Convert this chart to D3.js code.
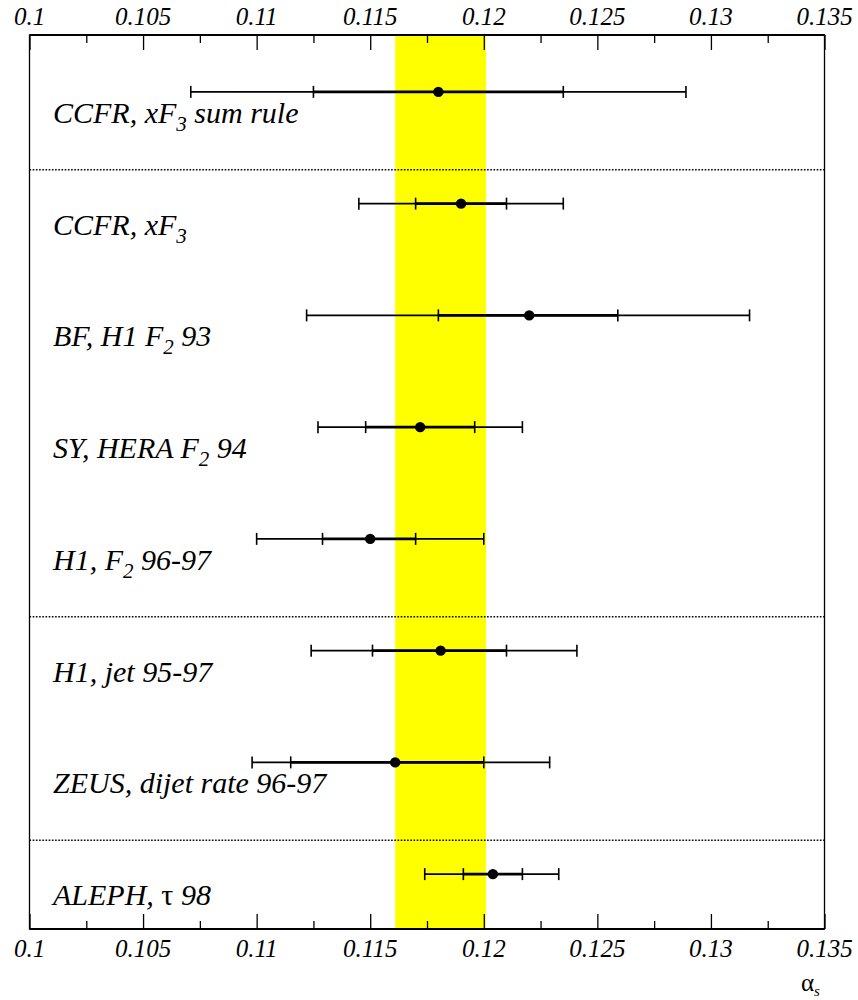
<!DOCTYPE html>
<html><head><meta charset="utf-8"><script src="https://cdn.jsdelivr.net/npm/d3@7"></script></head>
<body style="margin:0">
<svg id="chart" width="858" height="1000" font-family="Liberation Serif"></svg>
<script>
// ---- data ----
const labels = [
  [{t:"CCFR, xF"},{t:"3",sub:true},{t:" sum rule"}],
  [{t:"CCFR, xF"},{t:"3",sub:true}],
  [{t:"BF, H1 F"},{t:"2",sub:true},{t:" 93"}],
  [{t:"SY, HERA F"},{t:"2",sub:true},{t:" 94"}],
  [{t:"H1, F"},{t:"2",sub:true},{t:" 96-97"}],
  [{t:"H1, jet 95-97"}],
  [{t:"ZEUS, dijet rate 96-97"}],
  [{t:"ALEPH, "},{t:"τ",greek:true},{t:" 98"}]
];
const central = [0.1180, 0.1190, 0.1220, 0.1172, 0.1150, 0.1181, 0.1161, 0.1204];
const innerLo = [0.1125, 0.1170, 0.1180, 0.1148, 0.1129, 0.1151, 0.1115, 0.1191];
const innerHi = [0.1235, 0.1210, 0.1259, 0.1196, 0.1170, 0.1210, 0.1200, 0.1217];
const outerLo = [0.1071, 0.1145, 0.1122, 0.1127, 0.1100, 0.1124, 0.1098, 0.1174];
const outerHi = [0.1289, 0.1235, 0.1317, 0.1217, 0.1200, 0.1241, 0.1229, 0.1233];
const separatorsAfter = [0, 4, 6];
const bandLo = 0.1161, bandHi = 0.1201;
const majorTicks = [0.1, 0.105, 0.11, 0.115, 0.12, 0.125, 0.13, 0.135];
const tickLabels = ["0.1","0.105","0.11","0.115","0.12","0.125","0.13","0.135"];
const minorTicks = [0.1025, 0.1075, 0.1125, 0.1175, 0.1225, 0.1275, 0.1325];

// ---- layout ----
const L = 29.5, R = 824.5, T = 35, B = 929;
const svg = d3.select("#chart");
const x = d3.scaleLinear().domain([0.1, 0.135]).range([L, R]);
const y = d3.scaleLinear().domain([0, labels.length]).range([T, B]);
const rowY = i => y(i + 0.5) + 1;

// yellow band
svg.append("rect")
  .attr("x", x(bandLo)).attr("y", T)
  .attr("width", x(bandHi) - x(bandLo)).attr("height", B - T)
  .attr("fill", "#ffff00");

// separators
svg.selectAll("line.sep").data(separatorsAfter).enter().append("line")
  .attr("class", "sep")
  .attr("x1", L).attr("x2", R)
  .attr("y1", d => y(d + 1) + 23).attr("y2", d => y(d + 1) + 23)
  .attr("stroke", "#000").attr("stroke-width", 1.6)
  .attr("stroke-dasharray", "1.6,1.6");

// axes ticks
const topAxis = d3.axisTop(x).tickValues(majorTicks).tickFormat("")
  .tickSizeInner(-15).tickSizeOuter(0);
const botAxis = d3.axisBottom(x).tickValues(majorTicks).tickFormat("")
  .tickSizeInner(-15).tickSizeOuter(0);
const topMinor = d3.axisTop(x).tickValues(minorTicks).tickFormat("")
  .tickSizeInner(-8).tickSizeOuter(0);
const botMinor = d3.axisBottom(x).tickValues(minorTicks).tickFormat("")
  .tickSizeInner(-8).tickSizeOuter(0);
function styleAxis(g) {
  g.select(".domain").remove();
  g.selectAll(".tick text").remove();
  g.selectAll(".tick line").attr("stroke", "#000").attr("stroke-width", 1.3);
}
svg.append("g").attr("transform", `translate(0,${T})`).call(topAxis).call(styleAxis);
svg.append("g").attr("transform", `translate(0,${B})`).call(botAxis).call(styleAxis);
svg.append("g").attr("transform", `translate(0,${T})`).call(topMinor).call(styleAxis);
svg.append("g").attr("transform", `translate(0,${B})`).call(botMinor).call(styleAxis);

// tick labels (top and bottom)
[T - 10, B + 28].forEach(ty => {
  svg.append("g").selectAll("text").data(majorTicks).enter().append("text")
    .attr("x", d => x(d)).attr("y", ty)
    .attr("text-anchor", "middle")
    .attr("font-family", "Liberation Serif")
    .attr("font-size", 25).attr("font-style", "italic").attr("fill", "#000")
    .text((d, i) => tickLabels[i]);
});

// frame
svg.append("rect")
  .attr("x", L).attr("y", T).attr("width", R - L).attr("height", B - T)
  .attr("fill", "none").attr("stroke", "#000").attr("stroke-width", 1.3);
svg.append("line").attr("x1", L).attr("x2", R).attr("y1", T).attr("y2", T)
  .attr("stroke", "#000").attr("stroke-width", 2);
svg.append("line").attr("x1", L).attr("x2", R).attr("y1", B).attr("y2", B)
  .attr("stroke", "#000").attr("stroke-width", 2);

// measurements
const rows = svg.selectAll("g.row").data(central).enter().append("g").attr("class", "row");
const cap = 6;
rows.append("line")
  .attr("x1", (d, i) => x(outerLo[i])).attr("x2", (d, i) => x(outerHi[i]))
  .attr("y1", (d, i) => rowY(i)).attr("y2", (d, i) => rowY(i))
  .attr("stroke", "#000").attr("stroke-width", 1.6);
rows.append("line")
  .attr("x1", (d, i) => x(innerLo[i])).attr("x2", (d, i) => x(innerHi[i]))
  .attr("y1", (d, i) => rowY(i)).attr("y2", (d, i) => rowY(i))
  .attr("stroke", "#000").attr("stroke-width", 2.8);
[outerLo, outerHi, innerLo, innerHi].forEach(arr => {
  rows.append("line")
    .attr("x1", (d, i) => x(arr[i])).attr("x2", (d, i) => x(arr[i]))
    .attr("y1", (d, i) => rowY(i) - cap).attr("y2", (d, i) => rowY(i) + cap)
    .attr("stroke", "#000").attr("stroke-width", 1.6);
});
rows.append("circle")
  .attr("cx", d => x(d)).attr("cy", (d, i) => rowY(i)).attr("r", 5.2)
  .attr("fill", "#000");

// labels
labels.forEach((parts, i) => {
  const t = svg.append("text")
    .attr("x", 53).attr("y", rowY(i) + 31)
    .attr("fill", "#000")
    .attr("font-family", "Liberation Serif")
    .attr("font-size", 30).attr("font-style", "italic");
  let prevSub = false;
  parts.forEach(p => {
    const s = t.append("tspan").text(p.t);
    if (p.sub) s.attr("font-size", 21).attr("dy", 8);
    else if (prevSub) s.attr("dy", -8);
    if (p.greek) s.attr("font-style", "normal");
    prevSub = p.sub === true;
  });
});

// axis title alpha_s
const at = svg.append("text").attr("x", 801).attr("y", 991)
  .attr("fill", "#000").attr("font-size", 25)
  .attr("font-family", "Liberation Serif");
at.append("tspan").text("α");
at.append("tspan").attr("font-size", 15).attr("font-style", "italic").attr("dy", 5).text("s");
</script>
</body></html>
